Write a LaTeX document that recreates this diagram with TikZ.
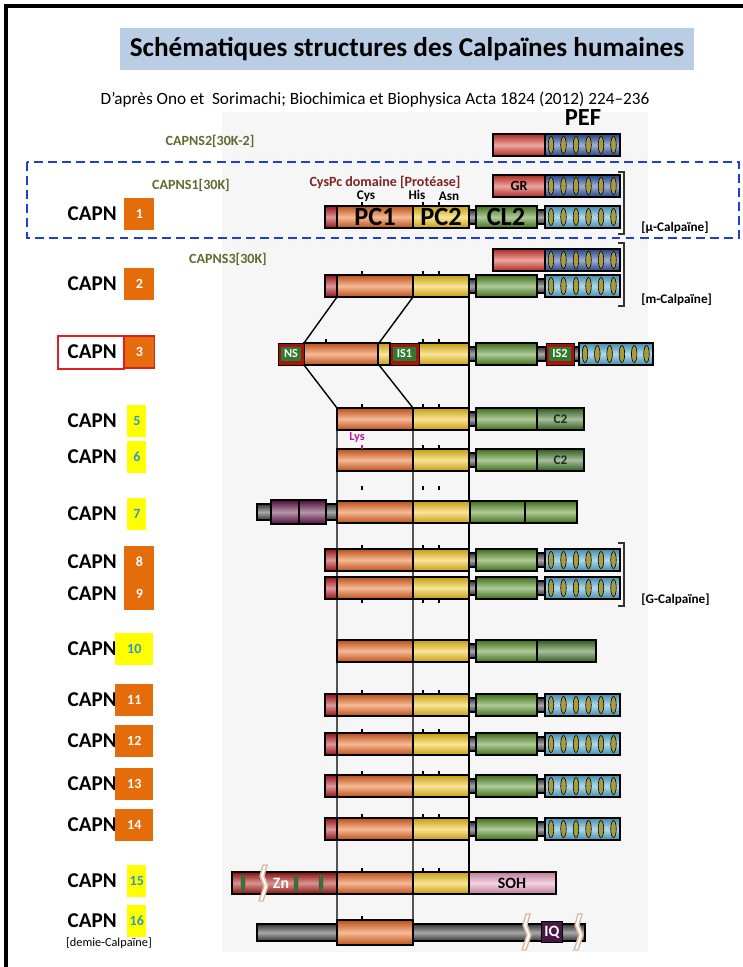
\documentclass[tikz,border=0pt]{standalone}
\usepackage{fontspec}
\setmainfont{Carlito}
\usetikzlibrary{positioning}
\definecolor{cnterm}{HTML}{B8161C}
\definecolor{cpca}{HTML}{EA641A}
\definecolor{cpcb}{HTML}{F4C414}
\definecolor{ccl}{HTML}{4E8A1E}
\definecolor{cctwo}{HTML}{3A7222}
\definecolor{clink}{HTML}{404040}
\definecolor{cpef}{HTML}{52AED6}
\definecolor{cpefd}{HTML}{2C52A4}
\definecolor{coval}{HTML}{A89C3E}
\definecolor{cgr}{HTML}{D8342A}
\definecolor{cpurp}{HTML}{5E1042}
\definecolor{csoh}{HTML}{EC9CC0}
\definecolor{czn}{HTML}{A8120F}
\definecolor{cnsg}{HTML}{2F7A2E}
\definecolor{ciq}{HTML}{4A1745}
\definecolor{cnumo}{HTML}{E46C0A}
\definecolor{cnumy}{HTML}{FFFF00}
\definecolor{cnumt}{HTML}{2E9BC4}
\definecolor{colive}{HTML}{5F6B30}
\definecolor{cbrown}{HTML}{7B2525}
\definecolor{clys}{HTML}{C0179C}
\definecolor{cdash}{HTML}{1E3FD6}
\definecolor{ctitle}{HTML}{B9CDE5}
\definecolor{cpanel}{HTML}{F6F6F6}
\definecolor{cbreak}{HTML}{D9B8A0}
\definecolor{cframe}{HTML}{E02020}
\tikzset{
  dom/.style={draw=black, line width=0.7pt, top color=#1!80!black, bottom color=#1!80!black, middle color=#1!45!white},
  link/.style={dom=clink},
  oval/.style={draw=black, line width=0.35pt, fill=coval},
  guide/.style={draw=black, line width=0.8pt},
  tick/.style={draw=black, line width=1.1pt},
  brk/.style={draw=cbreak, line width=0.8pt, fill=white},
  bracket/.style={draw=black!80, line width=1.2pt},
  capn/.style={anchor=east, inner sep=0pt, font=\bfseries\fontsize{12}{14}\selectfont},
  numbox/.style={anchor=west, minimum height=6.3mm, inner sep=0pt, font=\bfseries\fontsize{8}{9}\selectfont},
  numo/.style={numbox, fill=cnumo, text=white, minimum width=6mm},
  numoo/.style={numbox, fill=cnumo, text=white, minimum width=7.6mm},
  numy/.style={numbox, fill=cnumy, text=cnumt, minimum width=3.8mm},
  numyy/.style={numbox, fill=cnumy, text=cnumt, minimum width=7.6mm},
  sub/.style={text=colive, inner sep=0pt, font=\bfseries\fontsize{8}{9}\selectfont},
  family/.style={anchor=west, inner sep=0pt, font=\bfseries\fontsize{7.5}{9}\selectfont},
  dlbl/.style={inner sep=0pt, font=\bfseries\fontsize{7}{8}\selectfont},
  site/.style={inner sep=0pt, font=\bfseries\fontsize{7.5}{8}\selectfont},
  inset/.style={draw=black, line width=0.5pt, fill=czn},
  big/.style={inner sep=0pt, font=\bfseries\fontsize{15}{16}\selectfont},
}

\begin{document}
\begin{tikzpicture}[x=0.02cm,y=-0.02cm]
\useasboundingbox (0,0) rectangle (743,967);
% ---------------- frame, panel, title
\fill[cpanel] (222,112) rectangle (648,952);
\draw[line width=1.8pt] (6,967) -- (6,6) -- (743,6);
\node[fill=ctitle, minimum width=11.48cm, minimum height=8.4mm, font=\bfseries\fontsize{15.5}{18}\selectfont] (title) at (407,49) {Schématiques structures des Calpaïnes humaines};
\node[font=\fontsize{9.8}{11}\selectfont] (source) at (375,100) {D’après Ono et\ \ Sorimachi; Biochimica et Biophysica Acta 1824 (2012) 224–236};
\node[inner sep=0pt, font=\bfseries\fontsize{14}{16}\selectfont] (pef) at (583,118) {PEF};
% ---------------- small subunits
\node[sub] (ns2) at (210,141) {CAPNS2[30K-2]};
\node[sub] (ns1) at (191,185) {CAPNS1[30K]};
\node[sub] (ns3) at (228,259) {CAPNS3[30K]};
\foreach \y in {145,186,260}{
  \draw[dom=cgr] (493,\y-11) rectangle (545,\y+11);
  \draw[dom=cpefd] (545,\y-11) rectangle (620,\y+11);
  \foreach \k in {0,...,5} \draw[oval] (551+\k*12.5,\y) ellipse [x radius=0.55mm, y radius=1.7mm];
}
\node[dlbl, font=\bfseries\fontsize{8}{9}\selectfont] (gr) at (519,186) {GR};
\draw[cdash, line width=1.5pt, dash pattern=on 5pt off 3pt] (27,162) rectangle (739,238);
% ---------------- guide lines
\draw[guide] (337,297) -- (304,343) (304,365) -- (337,408) -- (337,921);
\draw[guide] (413,297) -- (379,343) (379,365) -- (413,408) -- (413,921);
\draw[guide] (469,297) -- (469,872);
% ---------------- full calpains
\foreach \y in {217,286,560,588,705,744,786,829}{
  \draw[dom=cnterm] (325,\y-11) rectangle (337,\y+11);
  \draw[dom=cpca] (337,\y-11) rectangle (413,\y+11);
  \draw[dom=cpcb] (413,\y-11) rectangle (469,\y+11);
  \draw[link] (469,\y-7) rectangle (476,\y+7);
  \draw[dom=ccl] (476,\y-11) rectangle (537,\y+11);
  \draw[link] (537,\y-7) rectangle (545,\y+7);
  \draw[dom=cpef] (545,\y-11) rectangle (620,\y+11);
  \foreach \k in {0,...,5} \draw[oval] (551+\k*12.5,\y) ellipse [x radius=0.55mm, y radius=1.7mm];
}
\node[big] (pc1) at (375,217) {PC1};
\node[big] (pc2) at (441,217) {PC2};
\node[big] (cl2) at (506,217) {CL2};
\node[dlbl, text=cbrown, font=\bfseries\fontsize{8}{9}\selectfont] (cyspc) at (385,182) {CysPc domaine [Protéase]};
\node[site] (cys) at (366,196) {Cys};
\node[site] (his) at (417,195) {His};
\node[site] (asn) at (449,196) {Asn};
% ---------------- CAPN3
\draw[dom=cpca] (304,343) rectangle (378,365);
\draw[dom=cpcb] (378,343) rectangle (390,365);
\draw[dom=cpcb] (419,343) rectangle (469,365);
\draw[link] (469,347) rectangle (476,361);
\draw[dom=ccl] (476,343) rectangle (537,365);
\draw[link] (537,347) rectangle (546,361);
\draw[link] (574,347) rectangle (579,361);
\draw[dom=cpef] (579,343) rectangle (653,365);
\foreach \k in {0,...,5} \draw[oval] (585+\k*12.3,354) ellipse [x radius=0.55mm, y radius=1.7mm];
\foreach \a/\b/\t in {278/304/NS,390/419/IS1,546/574/IS2}{
  \draw[inset] (\a,343) rectangle (\b,365);
  \fill[cnsg] (\a+3,347) rectangle (\b-3,361);
  \node[dlbl, text=white] (in\t) at ({(\a+\b)/2},354) {\t};
}
% ---------------- CAPN5, CAPN6, CAPN10
\foreach \y/\e/\t in {419/584/C2,460/584/C2,651/596/{}}{
  \draw[dom=cpca] (337,\y-11) rectangle (413,\y+11);
  \draw[dom=cpcb] (413,\y-11) rectangle (469,\y+11);
  \draw[link] (469,\y-7) rectangle (476,\y+7);
  \draw[dom=ccl] (476,\y-11) rectangle (537,\y+11);
  \draw[dom=cctwo] (537,\y-11) rectangle (\e,\y+11);
  \node[dlbl, font=\bfseries\fontsize{7.5}{8}\selectfont, text=black!85] (ctwo\y) at ({(537+\e)/2},\y) {\t};
}
\node[dlbl, text=clys] (lys) at (357,437) {Lys};
% ---------------- CAPN7
\draw[link] (257,504) rectangle (271,520);
\draw[dom=cpurp] (271,500) rectangle (299,524);
\draw[dom=cpurp] (299,500) rectangle (326,524);
\draw[link] (326,504) rectangle (337,520);
\draw[dom=cpca] (337,501) rectangle (413,523);
\draw[dom=cpcb] (413,501) rectangle (470,523);
\draw[dom=ccl] (470,501) rectangle (525,523);
\draw[dom=ccl] (525,501) rectangle (577,523);
% ---------------- CAPN15
\draw[dom=czn] (232,872) rectangle (337,894);
\foreach \x in {243,296,321} \draw[draw=black!70, fill=cnsg, line width=0.3pt] (\x,883) ellipse [x radius=0.4mm, y radius=1.8mm];
\draw[dom=cpca] (337,872) rectangle (413,894);
\draw[dom=cpcb] (413,872) rectangle (469,894);
\draw[dom=csoh] (469,872) rectangle (556,894);
\node[inner sep=0pt, text=white, font=\bfseries\fontsize{9}{10}\selectfont] (zn) at (281,883) {Zn};
\node[inner sep=0pt, font=\bfseries\fontsize{9}{10}\selectfont] (soh) at (512,883) {SOH};
% ---------------- CAPN16
\draw[link] (257,924) rectangle (585,941);
\draw[dom=cpca] (337,920) rectangle (413,945);
\node[fill=ciq, draw=black, line width=0.5pt, text=white, inner sep=0pt, minimum width=4.2mm, minimum height=4.2mm, font=\bfseries\fontsize{9}{10}\selectfont] (iq) at (552,932) {IQ};
% ---------------- breaks and ticks
\foreach \x/\y in {262/883,525/932,577/932}
  \filldraw[brk] (\x+1,\y-18) -- (\x-2,\y-7) -- (\x+2,\y+3) -- (\x-3,\y+18) -- (\x+1,\y+18) -- (\x+6,\y+3) -- (\x+2,\y-7) -- (\x+5,\y-18) -- cycle;
\foreach \y in {206,275,408,449,490,549,694,733,775,818,872}
  \foreach \t in {362,423,439} \draw[tick] (\t,\y) -- (\t,\y-4);
\foreach \t in {326,423,439} \draw[tick] (\t,343) -- (\t,339);
\foreach \t in {362,423,439} \draw[tick] (\t,599) -- (\t,603);
\draw[tick] (362,920) -- (362,916);
\draw[tick, draw=clys] (362,449) -- (362,445);
% ---------------- brackets
\foreach \a/\b/\t/\l in {172/234/mu/{[µ-Calpaïne]},243/306/m/{[m-Calpaïne]},543/606/g/{[G-Calpaïne]}}{
  \draw[bracket] (618,\a) -- (624,\a) -- (624,\b) -- (618,\b);
  \node[family] (fam\t) at (641,{\b-\ifx\t m 26\else 6\fi}) {\l};
}
% ---------------- gene labels
\foreach \n/\y/\s/\x in {1/214/numo/124,2/284/numo/124,3/352/numo/124,5/421/numy/127,6/457/numy/127,7/514/numy/127,8/562/numo/124,9/594/numo/124,10/649/numyy/115,11/700/numoo/115,12/741/numoo/115,13/784/numoo/115,14/825/numoo/115,15/881/numy/127,16/921/numy/127}{
  \node[capn] (capn\n) at (117,\y) {CAPN};
  \node[\s] (num\n) at (\x,\y) {\n};
}
\draw[cframe, line width=0.8pt] (58,336) rectangle (124,369);
\draw[cframe, line width=0.8pt] (num3.north west) rectangle (num3.south east);
\node[inner sep=0pt, font=\fontsize{7}{8}\selectfont] (demie) at (109,943) {[demie-Calpaïne]};
\end{tikzpicture}
\end{document}
